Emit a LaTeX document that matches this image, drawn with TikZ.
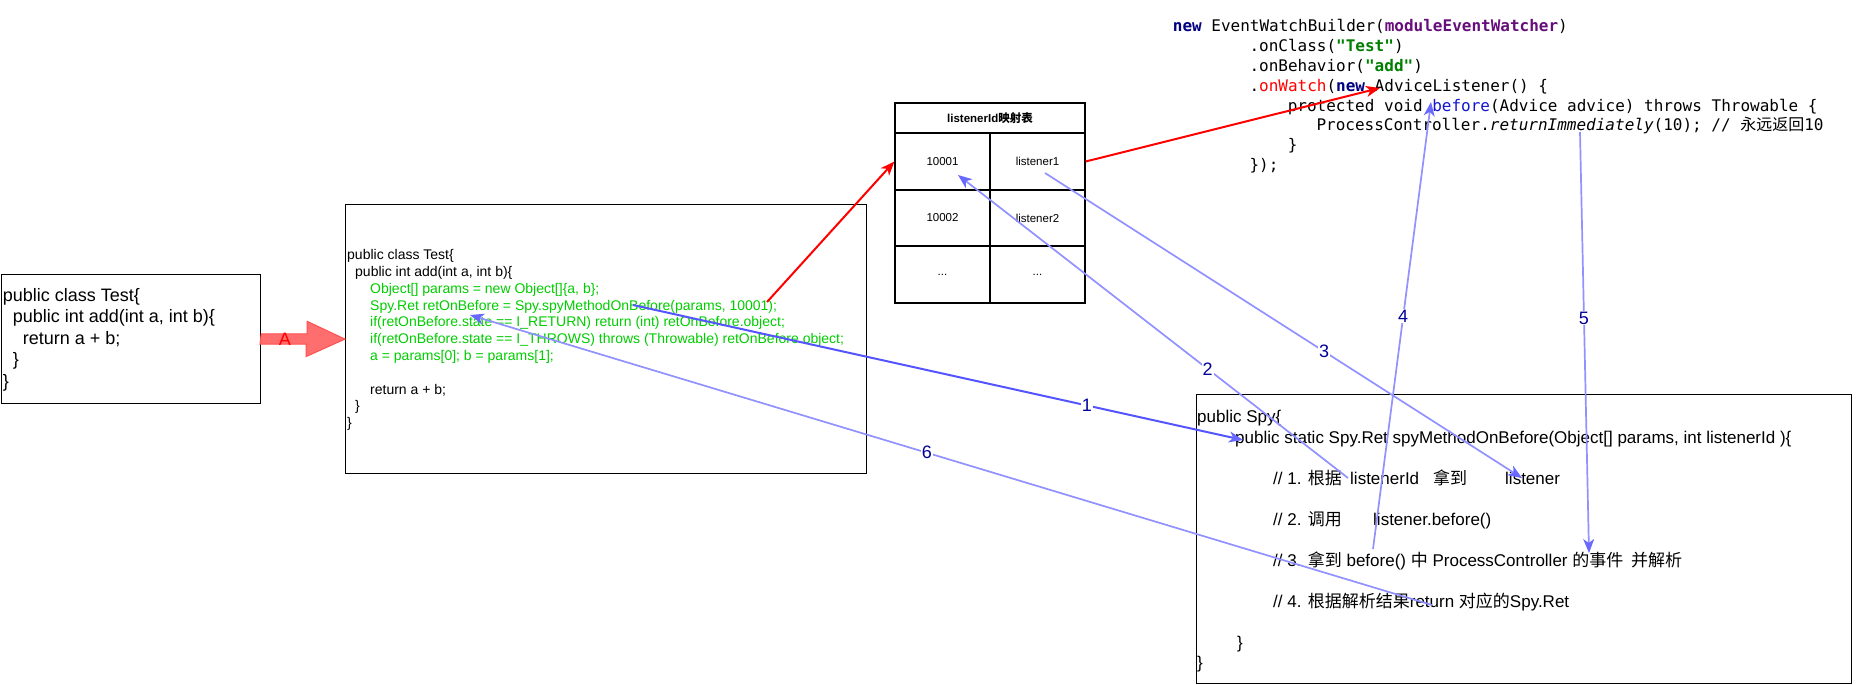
\documentclass[tikz,border=0pt]{standalone}
\usepackage{fontspec}
\setmainfont{Liberation Sans}
\newfontfamily\cjk{Noto Sans CJK SC}
\newfontfamily\monofont{DejaVu Sans Mono}
\usetikzlibrary{arrows.meta}
\definecolor{codegreen}{RGB}{0,204,0}
\definecolor{kwnavy}{RGB}{0,0,128}
\definecolor{kwpurple}{RGB}{102,14,122}
\definecolor{strgreen}{RGB}{0,128,0}
\definecolor{methblue}{RGB}{20,20,210}
\definecolor{flowblue}{RGB}{145,145,255}
\definecolor{flowblueA}{RGB}{85,85,255}
\definecolor{headblue}{RGB}{105,105,255}
\definecolor{lblblue}{RGB}{0,0,153}
\definecolor{fatfill}{RGB}{255,110,110}
\definecolor{fatdraw}{RGB}{255,80,80}
\tikzset{
  box/.style={draw=black, line width=1.2pt, inner sep=0pt, anchor=north west},
  cell/.style={draw=black, line width=1.2pt, inner sep=0pt, minimum width=95pt, font=\fontsize{11.5}{13}\selectfont},
  tx/.style={anchor=base west, inner sep=0pt},
  fA/.style={tx, font=\fontsize{18}{21.6}\selectfont},
  fB/.style={tx, font=\fontsize{14}{16.8}\selectfont},
  fS/.style={tx, font=\fontsize{17}{20.5}\selectfont},
  fC/.style={tx, font=\monofont\fontsize{16}{19.76}\selectfont},
  redarrow/.style={draw=red, line width=2pt, -{Stealth[length=14pt,width=11pt,inset=4pt]}},
  flow/.style={draw=flowblue, line width=1.7pt, -{Stealth[length=14pt,width=11pt,inset=4pt,color=headblue,fill=headblue]}},
  flowA/.style={draw=flowblueA, line width=2pt, -{Stealth[length=14pt,width=11pt,inset=4pt,color=headblue,fill=headblue]}},
  lbl/.style={fill=white, inner sep=1pt, text=lblblue, font=\fontsize{18}{20}\selectfont},
}
\begin{document}
\begin{tikzpicture}[x=1pt,y=-1pt]
\useasboundingbox (0,0) rectangle (1856,685);

% ---- box 1 : original class
\node[box, minimum width=259.4pt, minimum height=129.5pt] (box1) at (0.6,273.5) {};
\node[fA] (a1) at (2.7,301) {public class Test\{};
\node[fA] (a2) at (12.7,322.6) {public int add(int a, int b)\{};
\node[fA] (a3) at (22.7,344.2) {return a + b;};
\node[fA] (a4) at (12.7,365.8) {\}};
\node[fA] (a5) at (2.7,387.4) {\}};

% ---- box 2 : enhanced class
\node[box, minimum width=520.5pt, minimum height=269pt] (box2) at (345,204) {};
\node[fB] (b0) at (347,259.6) {public class Test\{};
\node[fB] (b1) at (355,276.4) {public int add(int a, int b)\{};
\node[fB, text=codegreen] (b2) at (370,293.2) {Object[] params = new Object[]\{a, b\};};
\node[fB, text=codegreen] (b3) at (370,310.0) {Spy.Ret retOnBefore = Spy.spyMethodOnBefore(params, 10001);};
\node[fB, text=codegreen] (b4) at (370,326.8) {if(retOnBefore.state == I\_RETURN) return (int) retOnBefore.object;};
\node[fB, text=codegreen] (b5) at (370,343.6) {if(retOnBefore.state == I\_THROWS) throws (Throwable) retOnBefore.object;};
\node[fB, text=codegreen] (b6) at (370,360.4) {a = params[0]; b = params[1];};
\node[fB] (b8) at (370,394.0) {return a + b;};
\node[fB] (b9) at (355,410.8) {\}};
\node[fB] (b10) at (347,427.6) {\}};

% ---- fat arrow A
\path[fill=fatfill, draw=fatdraw, line width=1pt]
  (box1.east) ++(0,-5) -- ++(46,0) -- ++(0,-12.5) -- (box2.west) -- ++(-39,17.5) -- ++(0,-12.5) -- ++(-46,0) -- cycle;
\node[text=red, font=\fontsize{18}{20}\selectfont, inner sep=0pt] (lblA) at (285,339) {A};

% ---- table
\node[cell, minimum width=190pt, minimum height=30pt, font=\bfseries\fontsize{11.5}{13}\selectfont] (hdr) at (990,118) {listenerId{\cjk\bfseries 映射表}};
\node[cell, minimum height=57pt] (c11) at (942.5,161.5) {10001};
\node[cell, minimum height=57pt] (c12) at (1037.5,161.5) {listener1};
\node[cell, minimum height=56pt] (c21) at (942.5,218) {10002};
\node[cell, minimum height=56pt] (c22) at (1037.5,218) {listener2};
\node[cell, minimum height=57pt] (c31) at (942.5,274.5) {...};
\node[cell, minimum height=57pt] (c32) at (1037.5,274.5) {...};

% ---- code block (top right)
\node[fC] (k1) at (1172.7,32) {{\bfseries\color{kwnavy}new} EventWatchBuilder({\bfseries\color{kwpurple}moduleEventWatcher})};
\node[fC] (k2) at (1249.3,51.8) {.onClass({\bfseries\color{strgreen}"Test"})};
\node[fC] (k3) at (1249.3,71.5) {.onBehavior({\bfseries\color{strgreen}"add"})};
\node[fC] (k4) at (1249.3,91.3) {.{\color{red}onWatch}({\bfseries\color{kwnavy}new} AdviceListener() \{};
\node[fC] (k5) at (1287.6,111.0) {protected void {\color{methblue}before}(Advice advice) throws Throwable \{};
\node[fC] (k6) at (1316.3,130.8) {ProcessController.\textit{returnImmediately}(10); // {\cjk 永远返回}10};
\node[fC] (k7) at (1287.6,150.6) {\}};
\node[fC] (k8) at (1249.3,170.3) {\});};

% ---- Spy box
\node[box, minimum width=655pt, minimum height=289pt] (spy) at (1196,394) {};
\node[fS] (s0) at (1197,422.6) {public Spy\{};
\node[fS] (s1) at (1235,443.1) {public static Spy.Ret spyMethodOnBefore(Object[] params, int listenerId )\{};
\node[fS] (s3) at (1273,484.1) {\makebox[77pt][l]{// 1. {\cjk 根据}}\makebox[83pt][l]{listenerId}\makebox[72pt][l]{\cjk 拿到}listener};
\node[fS] (s5) at (1273,525.1) {\makebox[100pt][l]{// 2. {\cjk 调用}}listener.before()};
\node[fS] (s7) at (1273,566.1) {\makebox[358pt][l]{// 3. {\cjk 拿到} before() {\cjk 中} ProcessController {\cjk 的事件}}{\cjk 并解析}};
\node[fS] (s9) at (1273,607.1) {// 4. {\cjk 根据解析结果}return {\cjk 对应的}Spy.Ret};
\node[fS] (s11) at (1237,648.1) {\}};
\node[fS] (s12) at (1197,668.6) {\}};

% ---- anchor points inside texts
\coordinate (b2id) at (767,302);
\coordinate (codeAL) at (1380,88);
\coordinate (b2call) at (633,305);
\coordinate (spyentry) at (1243,440);
\coordinate (spyid) at (1348,478);
\coordinate (tid) at (958,175);
\coordinate (l1src) at (1045,173);
\coordinate (spylistener) at (1522,478);
\coordinate (spybefore) at (1373,549);
\coordinate (codebefore) at (1431,102);
\coordinate (codeRI) at (1580,132);
\coordinate (spyevent) at (1589,553);
\coordinate (spyret) at (1432,605);
\coordinate (b2ret) at (470,315);

% ---- red connectors
\draw[redarrow] (b2id) -- (c11.west);
\draw[redarrow] (c12.east) -- (codeAL);

% ---- blue numbered connectors
\draw[flowA] (b2call) -- node[lbl, pos=0.744] (n1) {1} (spyentry);
\draw[flow] (spyid) -- node[lbl, pos=0.36] (n2) {2} (tid);
\draw[flow] (l1src) -- node[lbl, pos=0.585] (n3) {3} (spylistener);
\draw[flow] (spybefore) -- node[lbl, pos=0.521] (n4) {4} (codebefore);
\draw[flow] (codeRI) -- node[lbl, pos=0.442] (n5) {5} (spyevent);
\draw[flow] (spyret) -- node[lbl, pos=0.525] (n6) {6} (b2ret);
\end{tikzpicture}
\end{document}
